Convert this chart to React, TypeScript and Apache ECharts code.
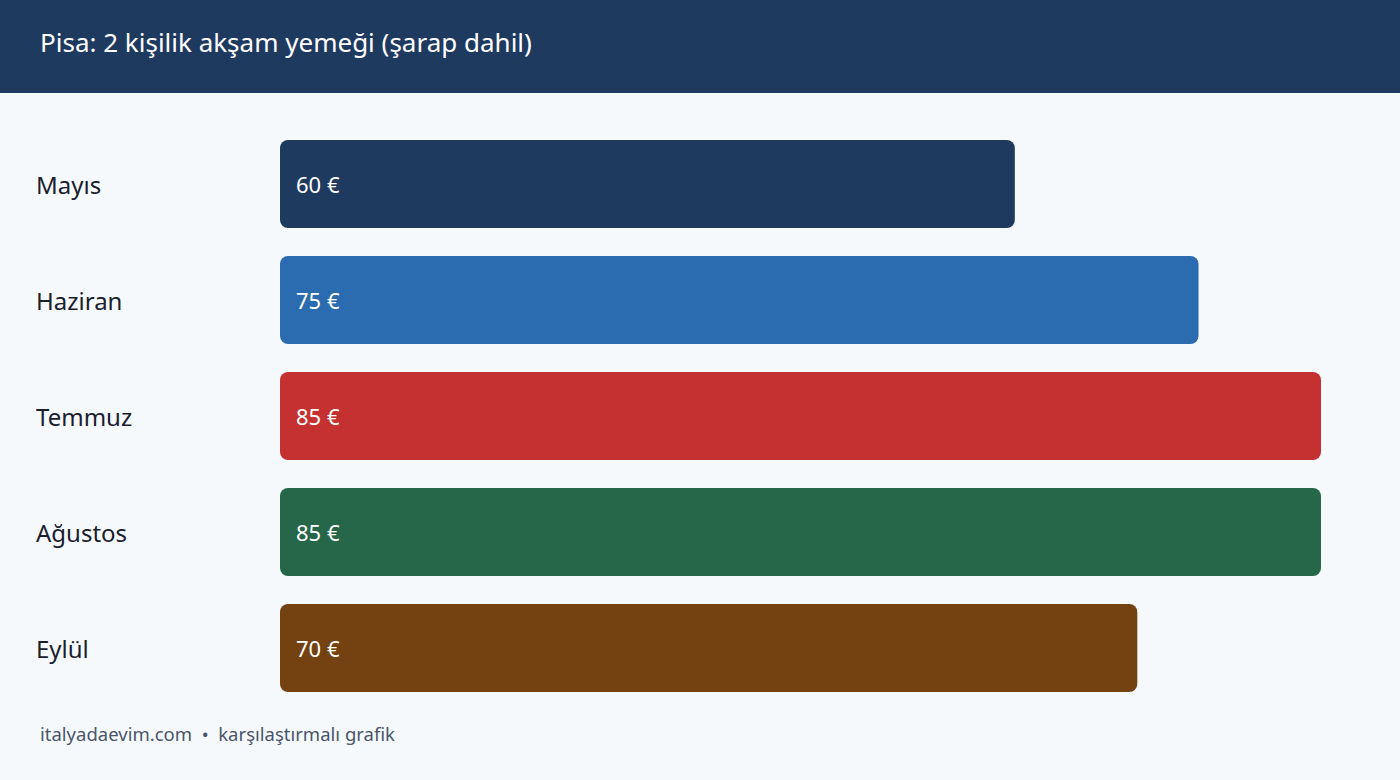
import React, { useEffect, useRef } from "react";
import * as echarts from "echarts";

const TITLE = "Pisa: 2 kişilik akşam yemeği (şarap dahil)";
const FOOTER = "italyadaevim.com  •  karşılaştırmalı grafik";
const months = ["Mayıs", "Haziran", "Temmuz", "Ağustos", "Eylül"];
const prices = [60, 75, 85, 85, 70];
const colors = ["#1f3a5f", "#2b6cb0", "#c53030", "#276749", "#744210"];

const FONT = "'Noto Sans', 'Open Sans', sans-serif";

export default function App() {
  const ref = useRef<HTMLDivElement>(null);
  useEffect(() => {
    document.body.style.margin = "0";
    const chart = echarts.init(ref.current!, null, { renderer: "svg" });
    chart.setOption({
      animation: false,
      backgroundColor: "#f6f9fc",
      textStyle: { fontFamily: FONT },
      graphic: [
        {
          type: "rect",
          left: 0,
          top: 0,
          z: -1,
          shape: { width: 1400, height: 93 },
          style: { fill: "#1f3a5f" },
        },
        {
          type: "text",
          left: 40,
          top: 29,
          style: { text: TITLE, fill: "#ffffff", font: `26px ${FONT}` },
        },
        {
          type: "text",
          left: 40,
          top: 724,
          style: { text: FOOTER, fill: "#4a5568", font: `18.5px ${FONT}` },
        },
      ],
      grid: { left: 280, top: 126, width: 1041, height: 580, containLabel: false },
      xAxis: {
        type: "value",
        min: 0,
        max: 85,
        show: false,
      },
      yAxis: {
        type: "category",
        data: months,
        inverse: true,
        axisLine: { show: false },
        axisTick: { show: false },
        axisLabel: {
          align: "left",
          margin: 244,
          color: "#1a202c",
          fontSize: 24,
          fontFamily: FONT,
          padding: [4, 0, 0, 0],
        },
      },
      series: [
        {
          type: "bar",
          barWidth: 88,
          data: prices.map((v, i) => ({
            value: v,
            itemStyle: { color: colors[i], borderRadius: 8 },
          })),
          label: {
            show: true,
            position: "insideLeft",
            distance: 16,
            formatter: (p: any) => `${p.value} €`,
            color: "#ffffff",
            fontSize: 22,
            fontFamily: FONT,
          },
        },
      ],
    });
    return () => chart.dispose();
  }, []);
  return <div ref={ref} style={{ width: 1400, height: 780 }} />;
}
